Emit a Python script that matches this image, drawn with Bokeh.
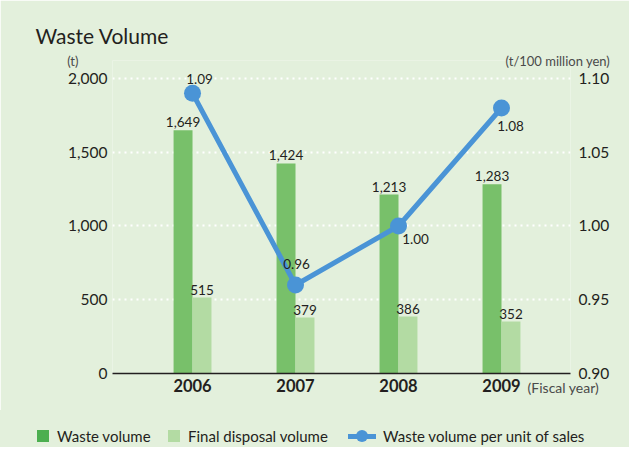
from bokeh.plotting import figure
from bokeh.layouts import column
from bokeh.models import (ColumnDataSource, Range1d, LinearAxis, FixedTicker, NumeralTickFormatter,
                          Label, LabelSet, Div)
from bokeh.core.properties import value
from bokeh.transform import dodge
from bokeh.embed import file_html
from bokeh.resources import INLINE

# ---- data ----
years = ["2006", "2007", "2008", "2009"]
waste_volume = [1649, 1424, 1213, 1283]
final_disposal = [515, 379, 386, 352]
waste_per_sales = [1.09, 0.96, 1.00, 1.08]
left_ticks = [0, 500, 1000, 1500, 2000]
right_ticks = [0.90, 0.95, 1.00, 1.05, 1.10]
legend_labels = ["Waste volume", "Final disposal volume", "Waste volume per unit of sales"]

FONT = "Lato"
TXT = "#231f20"
GRAY = "#4a4a4a"
BG = "#e3f0dc"
DARK = "#78c06a"
LIGHT = "#b3dba3"
DARK_LEG = "#4caf50"
LIGHT_LEG = "#b3dba3"
BLUE = "#4a94d6"

xs = list(range(len(years)))
src = ColumnDataSource(dict(
    x=xs,
    waste=waste_volume,
    final=final_disposal,
    ratio=waste_per_sales,
    waste_txt=[f"{v:,}" for v in waste_volume],
    final_txt=[f"{v:,}" for v in final_disposal],
))

p = figure(width=629, height=410, output_backend="svg", toolbar_location=None,
           x_range=Range1d(-0.777, 3.67), y_range=Range1d(0, 2122),
           min_border_left=112, min_border_right=59, min_border_top=60, min_border_bottom=37)
p.extra_y_ranges = {"right": Range1d(0.90, 1.1122)}
p.background_fill_color = BG
p.border_fill_color = BG
p.outline_line_color = None

p.title.text = "Waste Volume"
p.title.align = "left"
p.title.offset = -77
p.title.standoff = 25
p.title.text_font = FONT
p.title.text_font_size = "21px"
p.title.text_font_style = "normal"
p.title.text_color = TXT

BW = 0.184
p.vbar(x=dodge("x", -BW / 2), top="waste", width=BW, source=src, fill_color=DARK, line_color=None)
p.vbar(x=dodge("x", BW / 2), top="final", width=BW, source=src, fill_color=LIGHT, line_color=None)

p.line("x", "ratio", source=src, y_range_name="right", line_color=BLUE, line_width=5)
p.scatter("x", "ratio", source=src, y_range_name="right", size=17, fill_color=BLUE, line_color=None)

# bar value labels
for col, ycol, off in (("waste_txt", "waste", -BW / 2), ("final_txt", "final", BW / 2)):
    p.add_layout(LabelSet(x=dodge("x", off), y=ycol, text=col, source=src, text_align="center",
                          text_baseline="bottom", y_offset=3, text_font=value(FONT),
                          text_font_size="13.5px", text_color=TXT))

# line value labels (x/y offsets in px)
offsets = [(7, 9, "bottom"), (1, 16, "bottom"), (17, -8, "top"), (9, -13, "top")]
for i, (dx, dy, base) in enumerate(offsets):
    p.add_layout(Label(x=xs[i], y=waste_per_sales[i], y_range_name="right", text=f"{waste_per_sales[i]:.2f}",
                       x_offset=dx, y_offset=dy, text_align="center", text_baseline=base,
                       text_font=FONT, text_font_size="13.5px", text_color=TXT))

# axes
xa = p.xaxis[0]
xa.ticker = FixedTicker(ticks=xs)
xa.major_label_overrides = {i: y for i, y in zip(xs, years)}
xa.axis_line_color = TXT
xa.axis_line_width = 1.5
xa.major_tick_line_color = None
xa.major_tick_out = 0
xa.major_tick_in = 0
xa.minor_tick_line_color = None
xa.minor_tick_out = 0
xa.major_label_standoff = 5
xa.major_label_text_font = FONT
xa.major_label_text_font_size = "16.5px"
xa.major_label_text_font_style = "bold"
xa.major_label_text_color = TXT
xa.axis_label = "(Fiscal year)" + "\u00a0" * 4
xa.axis_label_align = "end"
xa.axis_label_standoff_mode = "axis"
xa.axis_label_standoff = 5
xa.axis_label_text_align = "center"
xa.axis_label_text_font = FONT
xa.axis_label_text_font_size = "14px"
xa.axis_label_text_font_style = "normal"
xa.axis_label_text_color = GRAY

ya = p.yaxis[0]
ya.ticker = FixedTicker(ticks=left_ticks)
ya.formatter = NumeralTickFormatter(format="0,0")
ya.axis_line_color = None
ya.major_tick_line_color = None
ya.major_tick_out = 0
ya.major_tick_in = 0
ya.minor_tick_line_color = None
ya.minor_tick_out = 0
ya.major_label_standoff = 5
ya.major_label_text_font = FONT
ya.major_label_text_font_size = "15.5px"
ya.major_label_text_color = TXT
ya.axis_label = "(t)"
ya.axis_label_orientation = "horizontal"
ya.axis_label_align = "end"
ya.axis_label_standoff_mode = "axis"
ya.axis_label_standoff = 34
ya.axis_label_text_font = FONT
ya.axis_label_text_font_size = "13px"
ya.axis_label_text_font_style = "normal"
ya.axis_label_text_color = GRAY

ra = LinearAxis(y_range_name="right", ticker=FixedTicker(ticks=right_ticks),
                formatter=NumeralTickFormatter(format="0.00"))
ra.axis_line_color = None
ra.major_tick_line_color = None
ra.major_tick_out = 0
ra.major_tick_in = 0
ra.minor_tick_line_color = None
ra.minor_tick_out = 0
ra.major_label_standoff = 8
ra.major_label_text_font = FONT
ra.major_label_text_font_size = "15.5px"
ra.major_label_text_color = TXT
ra.axis_label = "(t/100 million yen)"
ra.axis_label_orientation = "horizontal"
ra.axis_label_align = "end"
ra.axis_label_standoff_mode = "axis"
ra.axis_label_standoff = -65
ra.axis_label_text_font = FONT
ra.axis_label_text_font_size = "13px"
ra.axis_label_text_font_style = "normal"
ra.axis_label_text_color = GRAY
p.add_layout(ra, "right")

p.xgrid.grid_line_color = None
p.ygrid.ticker = FixedTicker(ticks=left_ticks[1:])
p.ygrid.grid_line_color = "white"
p.ygrid.grid_line_width = 2
p.ygrid.grid_line_dash = "2 4"

# legend strip below the chart (HTML)
sq = "position:absolute;top:20px;width:12px;height:12px;"
tx = "position:absolute;top:16px;line-height:20px;white-space:nowrap;"
html = (
    f'<div style="position:relative;width:629px;height:37px;font-family:{FONT};font-size:15px;color:{TXT};">'
    f'<div style="{sq}left:37px;background:{DARK_LEG};"></div>'
    f'<div style="{tx}left:57px;">{legend_labels[0]}</div>'
    f'<div style="{sq}left:168px;background:{LIGHT_LEG};"></div>'
    f'<div style="{tx}left:188px;">{legend_labels[1]}</div>'
    f'<div style="position:absolute;top:23.5px;left:348px;width:28px;height:5px;background:{BLUE};"></div>'
    f'<div style="{sq}left:356px;border-radius:50%;background:{BLUE};"></div>'
    f'<div style="{tx}left:383px;">{legend_labels[2]}</div>'
    '</div>'
)
leg = Div(text=html, width=629, height=37, styles={"background-color": BG, "margin": "0", "padding": "0"})

layout = column(p, leg, spacing=0)
open("out.html", "w").write(file_html(layout, INLINE))
